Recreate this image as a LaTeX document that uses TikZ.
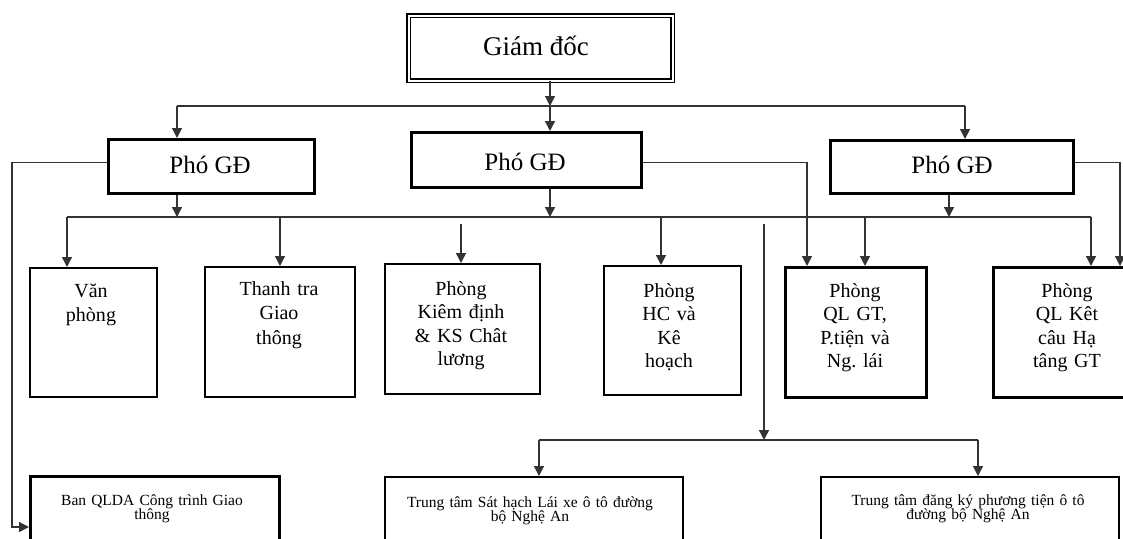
\documentclass[tikz,border=0pt]{standalone}
\usepackage{fontspec}
\setmainfont{Liberation Serif}
\usetikzlibrary{arrows.meta}
\frenchspacing
\begin{document}
\begin{tikzpicture}[x=1pt,y=-1pt,
  conn/.style={line width=1.4pt, draw=black!80},
  arr/.style={conn, -{Triangle[length=10pt,width=10pt]}},
  chief/.style={draw, double, double distance=2.2pt, line width=1.4pt, anchor=north west, inner sep=0pt},
  deputy/.style={draw, line width=2.8pt, anchor=north west, inner sep=0pt},
  unitbox/.style={draw, line width=2pt, anchor=north west, inner sep=0pt},
  unitboxb/.style={draw, line width=3pt, anchor=north west, inner sep=0pt},
  bigtxt/.style={anchor=base, inner sep=0pt, font=\fontsize{27}{32}\selectfont},
  deptxt/.style={anchor=base, inner sep=0pt, font=\fontsize{25}{30}\selectfont},
  unittxt/.style={anchor=base, inner sep=0pt, text width=150pt, align=center, font=\fontsize{20}{23.5}\selectfont},
  smalltxt/.style={anchor=base, inner sep=0pt, text width=290pt, align=center, font=\fontsize{15.5}{14.5}\selectfont},
]
\useasboundingbox (0,0) rectangle (1123,538);
\begin{scope}
\clip (0,0) rectangle (1123,538);

% director
\node[chief, minimum width=264pt, minimum height=65pt] (gd) at (408,15) {};
\node[bigtxt] (gdT) at (536,55) {Giám đốc};

% deputies
\node[deputy, minimum width=206pt, minimum height=54pt] (pL) at (107,138) {};
\node[deptxt] (pLT) at (210,173) {Phó GĐ};
\node[deputy, minimum width=230pt, minimum height=55pt] (pM) at (410,131) {};
\node[deptxt] (pMT) at (525,170) {Phó GĐ};
\node[deputy, minimum width=243pt, minimum height=53pt] (pR) at (829,139) {};
\node[deptxt] (pRT) at (952,173) {Phó GĐ};

% departments
\node[unitbox, minimum width=127pt, minimum height=129pt] (van) at (29,267) {};
\node[unittxt] (vanT) at (91,297) {Văn\\[1pt]phòng};
\node[unitbox, minimum width=150pt, minimum height=130pt] (tt) at (204,266) {};
\node[unittxt] (ttT) at (279,295) {Thanh tra\\[1pt]Giao\\[1pt]thông};
\node[unitbox, minimum width=155pt, minimum height=130pt] (kd) at (384,263) {};
\node[unittxt] (kdT) at (461,295) {Phòng\\Kiêm định\\\& KS Chât\\lương};
\node[unitbox, minimum width=137pt, minimum height=129pt] (hc) at (603,265) {};
\node[unittxt] (hcT) at (669,297) {Phòng\\HC và\\Kê\\hoạch};
\node[unitboxb, minimum width=141pt, minimum height=130pt] (qlgt) at (784,266) {};
\node[unittxt] (qlgtT) at (855,297) {Phòng\\QL GT,\\P.tiện và\\Ng. lái};
\node[unitboxb, minimum width=150pt, minimum height=130pt] (kc) at (992,266) {};
\node[unittxt] (kcT) at (1067,297) {Phòng\\QL Kêt\\câu Hạ\\tâng GT};

% lower units
\node[unitboxb, minimum width=249pt, minimum height=100pt] (ban) at (29,475) {};
\node[smalltxt] (banT) at (152,505) {Ban QLDA Công trình Giao\\thông};
\node[unitbox, minimum width=298pt, minimum height=100pt] (sh) at (384,476) {};
\node[smalltxt] (shT) at (530,507) {Trung tâm Sát hạch Lái xe ô tô đường\\bộ Nghệ An};
\node[unitbox, minimum width=298pt, minimum height=100pt] (dk) at (820,476) {};
\node[smalltxt] (dkT) at (968,505) {Trung tâm đăng ký phương tiện ô tô\\đường bộ Nghệ An};

% junction points
\coordinate (busTop) at (550,106);
\coordinate (busL) at (177,106);
\coordinate (busR) at (965,106);
\coordinate (bus2L) at (67,217);
\coordinate (bus2R) at (1091,217);
\coordinate (kdTop) at (461,224);
\coordinate (midTop) at (764,224);
\coordinate (bus3) at (764,440);
\coordinate (bus3L) at (539,440);
\coordinate (bus3R) at (978,440);
\coordinate (banIn) at (29,527);

% director to deputies
\draw[arr] (gd.south -| busTop) -- (busTop);
\draw[conn] (busL) -- (busR);
\draw[arr] (busL) -- (busL |- pL.north);
\draw[arr] (busTop) -- (busTop |- pM.north);
\draw[arr] (busR) -- (busR |- pR.north);

% deputies to departments
\draw[arr] (pL.south -| busL) -- (busL |- bus2L);
\draw[arr] (pM.south -| busTop) -- (busTop |- bus2L);
\draw[arr] (pR.south -| 949,0) -- (949,217);
\draw[conn] (bus2L) -- (bus2R);
\draw[arr] (bus2L) -- (bus2L |- van.north);
\draw[arr] (tt.north |- bus2L) -- (tt.north);
\draw[arr] (kdTop) -- (kdTop |- kd.north);
\draw[arr] ([xshift=58pt]hc.north west |- bus2L) -- ([xshift=58pt]hc.north west);
\draw[arr] ([xshift=81pt]qlgt.north west |- bus2L) -- ([xshift=81pt]qlgt.north west);
\draw[arr] (bus2R) -- (bus2R |- kc.north);

% direct reporting lines
\draw[arr] ([yshift=4pt]pL.west) -| (12,527) -- (banIn);
\draw[arr] ([yshift=-2.5pt]pM.east) -| ([xshift=23pt]qlgt.north west);
\draw[arr] ([yshift=4.5pt]pR.east) -| ([xshift=128pt]kc.north west);

% centres
\draw[arr] (midTop) -- (bus3);
\draw[conn] (bus3L) -- (bus3R);
\draw[arr] (bus3L) -- (bus3L |- sh.north);
\draw[arr] (bus3R) -- (bus3R |- dk.north);
\end{scope}
\end{tikzpicture}
\end{document}
